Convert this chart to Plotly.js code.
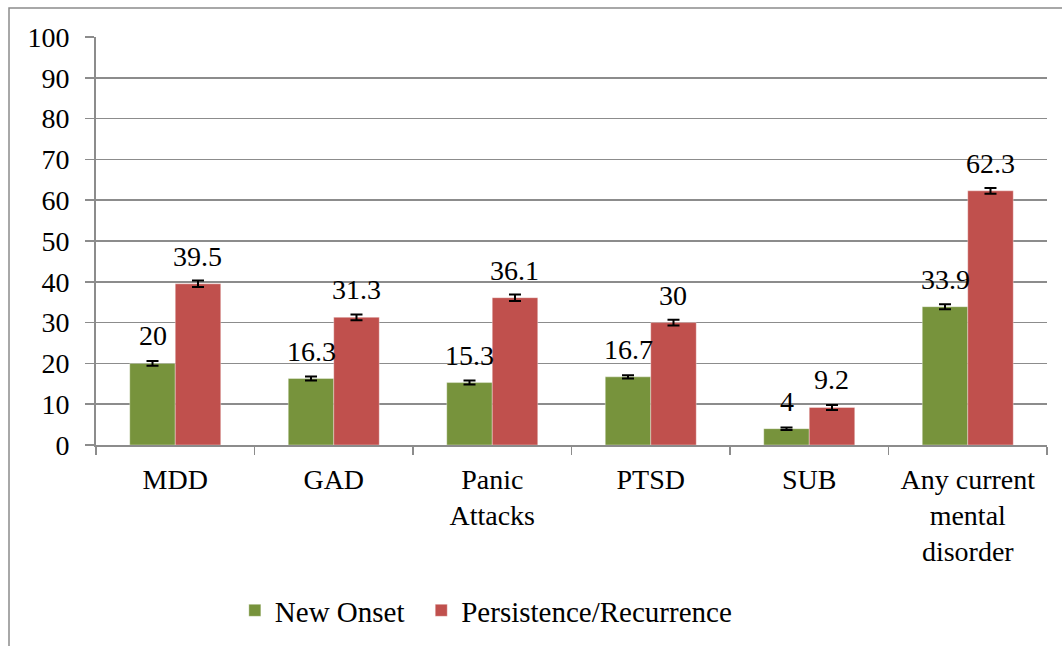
<!DOCTYPE html>
<html>
<head>
<meta charset="utf-8">
<script src="https://cdn.plot.ly/plotly-3.0.1.min.js"></script>
<style>
html,body{margin:0;padding:0;background:#fff;}
#chart{width:1062px;height:646px;}
</style>
</head>
<body>
<div id="chart"></div>
<script>
const categories = ["MDD", "GAD", "Panic<br>Attacks", "PTSD", "SUB", "Any current<br>mental<br>disorder"];
const newOnset = [20, 16.3, 15.3, 16.7, 4, 33.9];
const persistence = [39.5, 31.3, 36.1, 30, 9.2, 62.3];
const newOnsetErr = [0.6, 0.5, 0.5, 0.4, 0.3, 0.6];
const persistenceErr = [0.8, 0.7, 0.8, 0.7, 0.6, 0.7];
const yTicks = [0, 10, 20, 30, 40, 50, 60, 70, 80, 90, 100];

const FONT = "Liberation Serif";
const GREEN = "#77933C";
const RED = "#C0504D";
const GRID = "#8C8C8C";

const W = 1062, H = 646;
const margin = {l: 96, r: 15, t: 37, b: 201, autoexpand: false};
const plotW = W - margin.l - margin.r;
const plotH = H - margin.t - margin.b;
const bargap = 0.426;
const catW = plotW / categories.length;
const barW = catW * (1 - bargap) / 2;

const traces = [
  {
    type: "bar", name: "New Onset", x: categories, y: newOnset, legend: "legend",
    marker: {color: GREEN, line: {color: "rgba(255,255,255,0.35)", width: 1}},
    error_y: {type: "data", array: newOnsetErr, visible: true, color: "#000", thickness: 2, width: 6},
    hoverinfo: "none"
  },
  {
    type: "bar", name: "Persistence/Recurrence", x: categories, y: persistence, legend: "legend2",
    marker: {color: RED, line: {color: "rgba(255,255,255,0.35)", width: 1}},
    error_y: {type: "data", array: persistenceErr, visible: true, color: "#000", thickness: 2, width: 6},
    hoverinfo: "none"
  }
];

const annotations = [];
categories.forEach((c, i) => {
  annotations.push({x: c, y: newOnset[i], xref: "x", yref: "y", text: String(newOnset[i]),
    showarrow: false, xanchor: "center", yanchor: "bottom", xshift: -barW / 2, yshift: 10,
    font: {family: FONT, size: 28, color: "#000"}});
  annotations.push({x: c, y: persistence[i], xref: "x", yref: "y", text: String(persistence[i]),
    showarrow: false, xanchor: "center", yanchor: "bottom", xshift: barW / 2, yshift: 10,
    font: {family: FONT, size: 28, color: "#000"}});
});

const legendFont = {family: FONT, size: 29, color: "#000"};

const layout = {
  width: W, height: H, margin: margin,
  paper_bgcolor: "#fff", plot_bgcolor: "#fff",
  font: {family: FONT, size: 28, color: "#000"},
  barmode: "group", bargap: bargap, bargroupgap: 0,
  showlegend: true,
  legend: {orientation: "h", x: 0.146, xanchor: "left", y: -0.343, yanchor: "top",
    font: legendFont, itemwidth: 30, bgcolor: "rgba(0,0,0,0)"},
  legend2: {orientation: "h", x: 0.342, xanchor: "left", y: -0.343, yanchor: "top",
    font: legendFont, itemwidth: 30, bgcolor: "rgba(0,0,0,0)"},
  xaxis: {
    type: "category", showgrid: false, showline: true, linecolor: GRID, linewidth: 2,
    ticks: "outside", tickson: "boundaries", ticklen: 8, tickcolor: GRID, tickwidth: 1.5,
    tickfont: {family: FONT, size: 28, color: "#000"}, ticklabelstandoff: 8,
    zeroline: false, fixedrange: true, automargin: false
  },
  yaxis: {
    range: [0, 100], tickvals: yTicks, ticktext: yTicks.map(String),
    showgrid: true, gridcolor: GRID, gridwidth: 1.5,
    showline: true, linecolor: GRID, linewidth: 2,
    ticks: "outside", ticklen: 9, tickcolor: GRID, tickwidth: 1.5,
    tickfont: {family: FONT, size: 28, color: "#000"}, ticklabelstandoff: 10,
    zeroline: false, fixedrange: true, automargin: false
  },
  annotations: annotations,
  shapes: [{
    type: "rect", xref: "paper", yref: "paper",
    x0: (9 - margin.l) / plotW, x1: 1.2,
    y0: -1, y1: (margin.t + plotH - 8) / plotH,
    line: {color: GRID, width: 1.5}, fillcolor: "rgba(0,0,0,0)", layer: "below"
  }]
};

Plotly.newPlot("chart", traces, layout, {displayModeBar: false, staticPlot: true});
</script>
</body>
</html>
